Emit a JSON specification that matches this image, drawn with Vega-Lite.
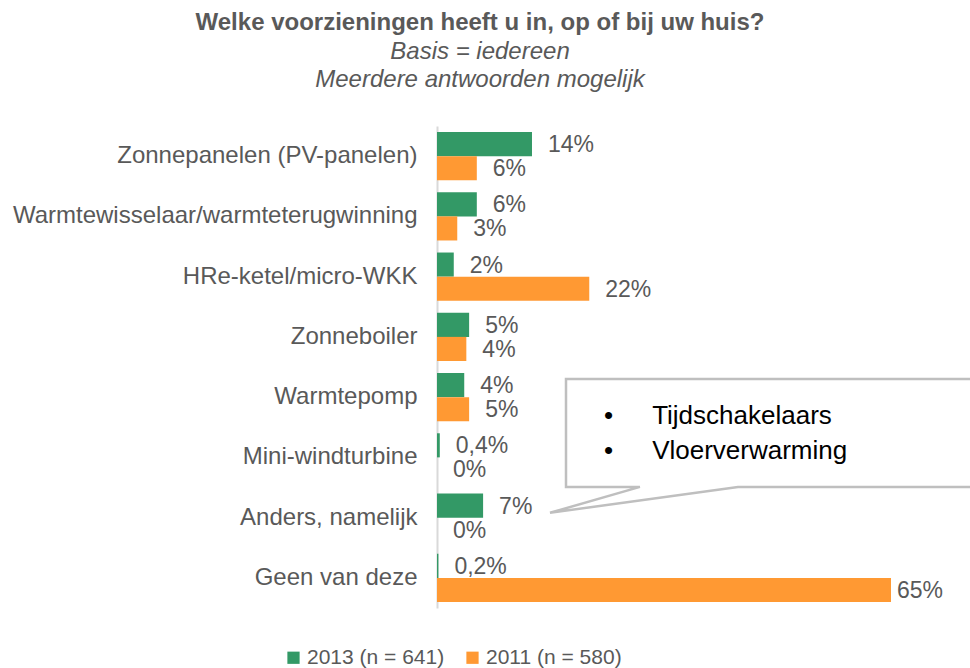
{
  "$schema": "https://vega.github.io/schema/vega-lite/v6.json",
  "width": 454,
  "height": 482,
  "autosize": {"type": "none"},
  "padding": {"left": 437, "top": 126, "right": 79, "bottom": 60},
  "background": "#ffffff",
  "config": {"font": "Liberation Sans", "view": {"stroke": null}},
  "title": {
    "text": "Welke voorzieningen heeft u in, op of bij uw huis?",
    "subtitle": ["Basis = iedereen", "Meerdere antwoorden mogelijk"],
    "anchor": "middle",
    "frame": "group",
    "dx": -184,
    "offset": 34,
    "fontSize": 24,
    "fontWeight": "bold",
    "color": "#595959",
    "font": "Liberation Sans",
    "subtitleFont": "Liberation Sans",
    "subtitleFontSize": 24,
    "subtitleFontStyle": "italic",
    "subtitleColor": "#595959",
    "subtitlePadding": 5,
    "subtitleLineHeight": 28
  },
  "datasets": {
    "bars": [
      {"category": "Zonnepanelen (PV-panelen)", "series": "2013 (n = 641)", "value": 13.6, "label": "14%"},
      {"category": "Zonnepanelen (PV-panelen)", "series": "2011 (n = 580)", "value": 5.7, "label": "6%"},
      {"category": "Warmtewisselaar/warmteterugwinning", "series": "2013 (n = 641)", "value": 5.7, "label": "6%"},
      {"category": "Warmtewisselaar/warmteterugwinning", "series": "2011 (n = 580)", "value": 2.9, "label": "3%"},
      {"category": "HRe-ketel/micro-WKK", "series": "2013 (n = 641)", "value": 2.4, "label": "2%"},
      {"category": "HRe-ketel/micro-WKK", "series": "2011 (n = 580)", "value": 21.8, "label": "22%"},
      {"category": "Zonneboiler", "series": "2013 (n = 641)", "value": 4.6, "label": "5%"},
      {"category": "Zonneboiler", "series": "2011 (n = 580)", "value": 4.2, "label": "4%"},
      {"category": "Warmtepomp", "series": "2013 (n = 641)", "value": 3.9, "label": "4%"},
      {"category": "Warmtepomp", "series": "2011 (n = 580)", "value": 4.6, "label": "5%"},
      {"category": "Mini-windturbine", "series": "2013 (n = 641)", "value": 0.4, "label": "0,4%"},
      {"category": "Mini-windturbine", "series": "2011 (n = 580)", "value": 0, "label": "0%"},
      {"category": "Anders, namelijk", "series": "2013 (n = 641)", "value": 6.6, "label": "7%"},
      {"category": "Anders, namelijk", "series": "2011 (n = 580)", "value": 0, "label": "0%"},
      {"category": "Geen van deze", "series": "2013 (n = 641)", "value": 0.2, "label": "0,2%"},
      {"category": "Geen van deze", "series": "2011 (n = 580)", "value": 65, "label": "65%"}
    ],
    "callout": [
      {"i": 0, "cx": 29.06, "cy": 5.99},
      {"i": 1, "cx": 16.18, "cy": 6.42},
      {"i": 2, "cx": 43.09, "cy": 5.99},
      {"i": 3, "cx": 82.0, "cy": 5.99},
      {"i": 4, "cx": 82.0, "cy": 4.2},
      {"i": 5, "cx": 18.47, "cy": 4.2},
      {"i": 6, "cx": 18.47, "cy": 5.99},
      {"i": 7, "cx": 29.06, "cy": 5.99}
    ],
    "notes": [
      {"cx": 23.9, "cy": 4.81, "t": "•"},
      {"cx": 23.9, "cy": 5.39, "t": "•"},
      {"cx": 30.8, "cy": 4.81, "t": "Tijdschakelaars"},
      {"cx": 30.8, "cy": 5.39, "t": "Vloerverwarming"}
    ]
  },
  "layer": [
    {
      "data": {"name": "bars"},
      "encoding": {
        "y": {
          "field": "category", "type": "nominal",
          "sort": ["Zonnepanelen (PV-panelen)", "Warmtewisselaar/warmteterugwinning", "HRe-ketel/micro-WKK", "Zonneboiler", "Warmtepomp", "Mini-windturbine", "Anders, namelijk", "Geen van deze"],
          "scale": {"paddingInner": 0.2, "paddingOuter": 0.1},
          "axis": {"title": null, "ticks": false, "labelFontSize": 24, "labelColor": "#595959", "labelPadding": 20, "labelLimit": 600, "domainColor": "#D9D9D9", "domainWidth": 2, "grid": false}
        },
        "yOffset": {"field": "series", "type": "nominal", "sort": ["2013 (n = 641)", "2011 (n = 580)"]},
        "x": {"field": "value", "type": "quantitative", "scale": {"domain": [0, 65], "nice": false}, "axis": null}
      },
      "layer": [
        {
          "mark": {"type": "bar"},
          "encoding": {
            "color": {
              "field": "series", "type": "nominal",
              "scale": {"domain": ["2013 (n = 641)", "2011 (n = 580)"], "range": ["#339966", "#FF9933"]},
              "legend": {"orient": "none", "legendX": -154, "legendY": 521, "direction": "horizontal", "title": null, "symbolType": "square", "symbolSize": 150, "symbolStrokeWidth": 0, "labelFontSize": 21, "labelColor": "#595959", "columnPadding": 17, "labelOffset": 3}
            }
          }
        },
        {
          "transform": [{"filter": "datum.value < 60"}],
          "mark": {"type": "text", "align": "left", "baseline": "middle", "dx": 16, "dy": 1, "fontSize": 23, "color": "#595959"},
          "encoding": {"text": {"field": "label"}}
        },
        {
          "transform": [{"filter": "datum.value >= 60"}],
          "mark": {"type": "text", "align": "left", "baseline": "middle", "dx": 6, "dy": 1, "fontSize": 23, "color": "#595959"},
          "encoding": {"text": {"field": "label"}}
        }
      ]
    },
    {
      "encoding": {
        "x": {"field": "cx", "type": "quantitative", "scale": {"domain": [0, 65], "nice": false}, "axis": null},
        "y": {"field": "cy", "type": "quantitative", "scale": {"domain": [0, 8], "reverse": true, "nice": false, "zero": false}, "axis": null}
      },
      "layer": [
        {
          "data": {"name": "callout"},
          "mark": {"type": "line", "stroke": "#BFBFBF", "strokeWidth": 2.5, "interpolate": "linear"},
          "encoding": {"order": {"field": "i", "type": "quantitative"}}
        },
        {
          "data": {"name": "notes"},
          "mark": {"type": "text", "align": "left", "baseline": "middle", "fontSize": 26, "color": "#000000"},
          "encoding": {"text": {"field": "t"}}
        }
      ]
    }
  ],
  "resolve": {"scale": {"y": "independent"}}
}
